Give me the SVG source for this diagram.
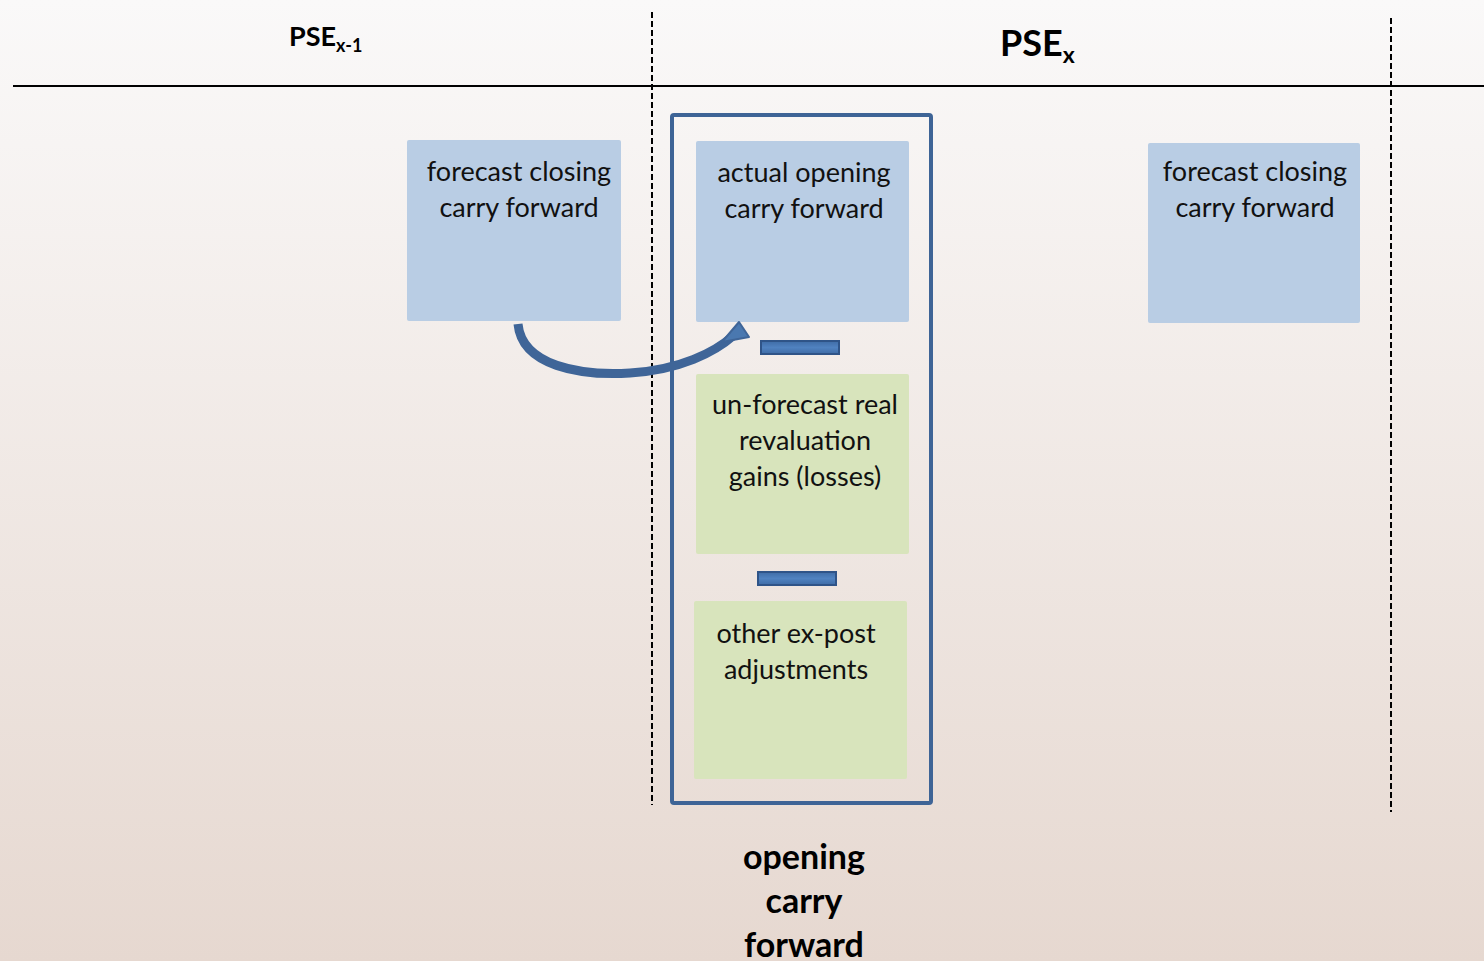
<svg xmlns="http://www.w3.org/2000/svg" width="1484" height="961" viewBox="0 0 1484 961">
<defs>
<linearGradient id="bg" x1="0" y1="0" x2="0" y2="1">
<stop offset="0" stop-color="#faf9f9"/>
<stop offset="1" stop-color="#e6d8d0"/>
</linearGradient>
<linearGradient id="bar" x1="0" y1="0" x2="0" y2="1">
<stop offset="0" stop-color="#3f6ca6"/>
<stop offset="0.5" stop-color="#5082c0"/>
<stop offset="1" stop-color="#3f6ca6"/>
</linearGradient>
</defs>
<style>
.t{font-family:Lato,"Liberation Sans",sans-serif;font-size:27px;fill:#111;text-anchor:middle}
.blue{fill:#b9cde4}
.green{fill:#d8e4bc}
.dash{stroke:#000;stroke-width:2;stroke-dasharray:6 3;fill:none}
.minus{fill:url(#bar);stroke:#2f5488;stroke-width:2}
.hd{font-family:Lato,"Liberation Sans",sans-serif;font-weight:bold;fill:#000}
</style>
<rect width="1484" height="961" fill="url(#bg)"/>
<g id="frame">
<line x1="13" y1="86" x2="1484" y2="86" stroke="#000" stroke-width="2"/>
<line class="dash" x1="652" y1="12" x2="652" y2="805"/>
<line class="dash" x1="1391" y1="18" x2="1391" y2="812"/>
<text class="hd" x="289" y="46" font-size="27">PSE<tspan font-size="18" dy="6">x-1</tspan></text>
<text class="hd" x="1000" y="56" font-size="36">PSE<tspan font-size="23" dy="7">x</tspan></text>
</g>
<g id="group-opening">
<rect x="672" y="115" width="259" height="688" rx="2" fill="none" stroke="#3e6496" stroke-width="4"/>
</g>
<g id="node-prev-forecast">
<rect class="blue" x="407" y="140" width="214" height="181" rx="2"/>
<text class="t" x="519" y="181">forecast closing</text>
<text class="t" x="519" y="217">carry forward</text>
</g>
<g id="node-actual-opening">
<rect class="blue" x="696" y="141" width="213" height="181" rx="2"/>
<text class="t" x="804" y="182">actual opening</text>
<text class="t" x="804" y="218">carry forward</text>
</g>
<g id="minus1"><rect class="minus" x="761" y="341" width="78" height="13"/></g>
<g id="node-unforecast">
<rect class="green" x="696" y="374" width="213" height="180" rx="2"/>
<text class="t" x="805" y="414">un-forecast real</text>
<text class="t" x="805" y="450">revaluation</text>
<text class="t" x="805" y="486">gains (losses)</text>
</g>
<g id="minus2"><rect class="minus" x="758" y="572" width="78" height="13"/></g>
<g id="node-other">
<rect class="green" x="694" y="601" width="213" height="178" rx="2"/>
<text class="t" x="796" y="643">other ex-post</text>
<text class="t" x="796" y="679">adjustments</text>
</g>
<g id="node-next-forecast">
<rect class="blue" x="1148" y="143" width="212" height="180" rx="2"/>
<text class="t" x="1255" y="181">forecast closing</text>
<text class="t" x="1255" y="217">carry forward</text>
</g>
<g id="label-opening">
<text class="hd" x="804" y="869" font-size="34" text-anchor="middle">opening</text>
<text class="hd" x="804" y="913" font-size="34" text-anchor="middle">carry</text>
<text class="hd" x="804" y="957" font-size="34" text-anchor="middle">forward</text>
</g>
<g id="connectors">
<path d="M 518 324 C 522 366 580 376 630 373 C 680 370 715 352 733 336" fill="none" stroke="#3f6598" stroke-width="9" stroke-linecap="butt"/>
<polygon points="739,322 749,337 722,342" fill="#4a78b0" stroke="#3f6598" stroke-width="2" stroke-linejoin="round"/>
</g>
</svg>
